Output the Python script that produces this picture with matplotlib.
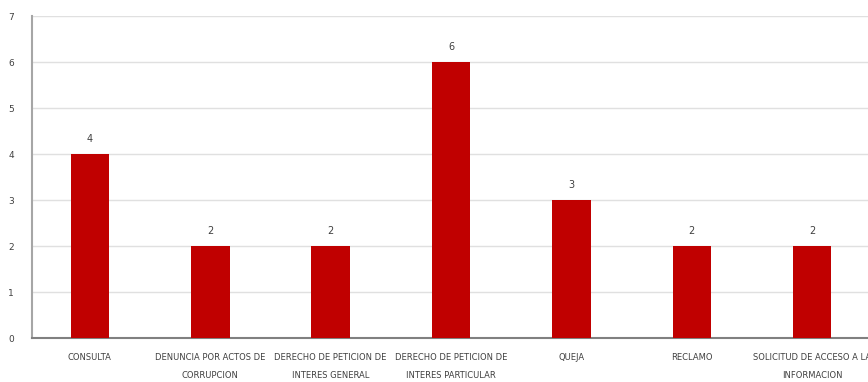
import matplotlib.pyplot as plt

categories = ['CONSULTA', 'DENUNCIA POR ACTOS DE\nCORRUPCION', 'DERECHO DE PETICION DE\nINTERES GENERAL',
              'DERECHO DE PETICION DE\nINTERES PARTICULAR', 'QUEJA', 'RECLAMO',
              'SOLICITUD DE ACCESO A LA\nINFORMACION']
values = [4, 2, 2, 6, 3, 2, 2]

plt.rcParams['font.family'] = ['Liberation Sans Narrow', 'DejaVu Sans']

fig = plt.figure(figsize=(8.68, 3.82), dpi=100)
ax = fig.add_axes([0.037, 0.115, 0.968, 0.843])

x = range(len(categories))
bars = ax.bar(x, values, width=0.32, color='#c00000', zorder=3)
for xi, v in zip(x, values):
    ax.text(xi, v + 0.22, str(v), ha='center', va='bottom', fontsize=7, color='#404040')

ax.set_xlim(-0.48, 6.5)
ax.set_ylim(0, 7)
ax.set_yticks(range(8))
ax.set_xticks(list(x))
ax.set_xticklabels(categories, fontsize=6, color='#404040', linespacing=2.3)
ax.tick_params(axis='y', labelsize=6.5, labelcolor='#404040', length=0, pad=13)
ax.tick_params(axis='x', length=0, pad=11)
ax.yaxis.grid(True, color='#e0e0e0', linewidth=1, zorder=0)
for s in ['top', 'right']:
    ax.spines[s].set_visible(False)
ax.spines['left'].set_color('#a6a6a6')
ax.spines['left'].set_linewidth(1.5)
ax.spines['bottom'].set_color('#808080')
ax.spines['bottom'].set_linewidth(1.5)

fig.savefig('out.png', dpi=100)
